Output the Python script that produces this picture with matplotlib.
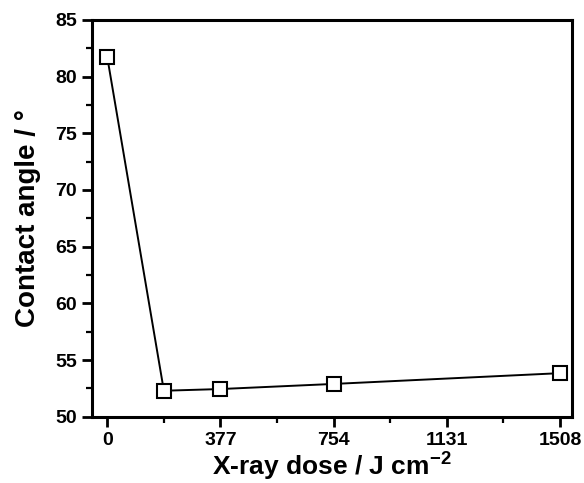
import matplotlib
matplotlib.use('Agg')
import matplotlib.pyplot as plt
from matplotlib.ticker import MultipleLocator

dose = [0, 188.5, 377, 754, 1508]
angle = [81.7, 52.3, 52.45, 52.9, 53.85]
xticks = [0, 377, 754, 1131, 1508]

plt.rcParams['font.family'] = ['Liberation Sans', 'DejaVu Sans']
plt.rcParams['font.weight'] = 'bold'
plt.rcParams['mathtext.fontset'] = 'custom'
plt.rcParams['mathtext.bf'] = 'Liberation Sans:bold'
plt.rcParams['mathtext.rm'] = 'Liberation Sans:bold'

fig = plt.figure(figsize=(5.84, 4.83), dpi=100)
ax = fig.add_axes([0.158, 0.137, 0.821, 0.822])

ax.plot(dose, angle, color='black', linewidth=1.4, marker='s', markersize=10,
        markerfacecolor='white', markeredgecolor='black', markeredgewidth=1.5)

ax.set_xlim(-50, 1547)
ax.set_ylim(50, 85)
ax.set_xticks(xticks)
ax.xaxis.set_minor_locator(MultipleLocator(188.5))
ax.yaxis.set_major_locator(MultipleLocator(5))
ax.yaxis.set_minor_locator(MultipleLocator(2.5))

for s in ax.spines.values():
    s.set_linewidth(2.2)
ax.tick_params(which='major', direction='out', length=7, width=2, labelsize=14, pad=4)
ax.tick_params(which='minor', direction='out', length=4, width=1.6)
for lbl in ax.get_xticklabels() + ax.get_yticklabels():
    lbl.set_fontweight('bold')

ax.set_xlabel('X-ray dose / J cm$^{\\mathbf{-2}}$', fontsize=19, fontweight='bold', labelpad=0)
ax.set_ylabel('Contact angle / °', fontsize=20, fontweight='bold', labelpad=10)

fig.savefig('out.png', dpi=100)
